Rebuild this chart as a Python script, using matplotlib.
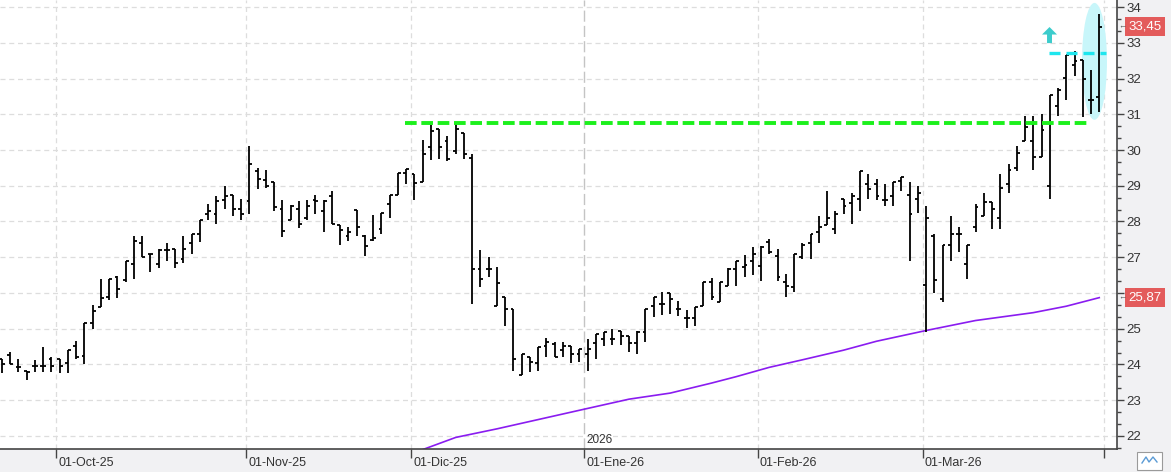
import numpy as np
import matplotlib
matplotlib.use('Agg')
import matplotlib.pyplot as plt
import matplotlib.transforms as mtransforms
from matplotlib.patches import Ellipse, Polygon, Rectangle
from matplotlib.lines import Line2D
from matplotlib.ticker import MultipleLocator

plt.rcParams['font.family'] = ['Liberation Sans', 'DejaVu Sans']

# daily OHLC, 22-Sep-25 .. 31-Mar-26 (one entry per trading session)
opens = [24.14, 24.27, 23.92, 23.83, 23.95, 23.96, 24.14, 24.15, 24.05, 24.52,
         24.24, 25.17, 25.60, 25.89, 26.45, 26.37, 26.80, 27.40, 27.10, 26.80,
         27.20, 27.24, 26.95, 27.40, 27.65, 28.20, 28.20, 28.60, 28.75, 28.35,
         28.56, 29.40, 29.17, 29.10, 28.35, 28.05, 28.35, 28.10, 28.60, 28.30,
         28.72, 27.90, 27.60, 28.31, 27.60, 27.47, 27.80, 28.50, 28.73, 29.35,
         29.32, 29.10, 30.08, 30.60, 30.26, 29.97, 30.48, 29.79, 26.66, 26.66,
         25.65, 25.88, 25.54, 23.70, 24.20, 24.03, 24.51, 24.56, 24.40, 24.52,
         24.28, 24.28, 24.59, 24.70, 24.70, 24.95, 24.80, 24.59, 24.92, 25.64,
         25.70, 26.00, 25.55, 25.31, 25.31, 25.64, 26.32, 25.76, 26.20, 26.66,
         26.72, 26.90, 26.76, 27.42, 27.04, 26.30, 26.16, 27.02, 27.40, 27.72,
         27.89, 27.79, 28.64, 28.52, 28.63, 29.05, 29.05, 28.59, 28.72, 29.12,
         28.75, 28.63, 26.21, 27.60, 25.84, 27.33, 27.65, 26.81, 27.85, 28.14,
         28.54, 28.10, 29.05, 29.50, 30.26, 30.26, 29.80, 29.00, 31.24, 32.02,
         32.37, 32.51, 31.40, 31.48]
highs = [24.15, 24.35, 24.15, 23.83, 24.12, 24.50, 24.20, 24.15, 24.40, 24.65,
         25.17, 25.66, 26.40, 26.40, 26.48, 26.90, 27.60, 27.60, 27.10, 27.24,
         27.40, 27.24, 27.60, 27.65, 28.03, 28.50, 28.72, 29.00, 28.75, 28.63,
         30.10, 29.50, 29.44, 29.10, 28.60, 28.47, 28.56, 28.60, 28.73, 28.60,
         28.85, 27.90, 27.85, 28.31, 27.61, 28.17, 28.25, 28.74, 29.35, 29.46,
         29.32, 30.27, 30.70, 30.60, 30.40, 30.73, 30.48, 29.90, 27.20, 27.00,
         26.73, 25.88, 25.54, 24.28, 24.20, 24.48, 24.73, 24.62, 24.62, 24.52,
         24.42, 24.71, 24.84, 24.92, 24.98, 24.95, 24.80, 24.95, 25.55, 25.88,
         26.02, 26.00, 25.79, 25.52, 25.60, 26.30, 26.41, 26.30, 26.69, 26.90,
         27.07, 27.30, 27.32, 27.51, 27.23, 26.53, 27.09, 27.40, 27.66, 28.16,
         28.86, 28.30, 28.64, 28.80, 29.42, 29.33, 29.19, 29.05, 29.10, 29.24,
         29.10, 29.00, 28.44, 27.65, 27.33, 28.16, 27.85, 27.33, 28.50, 28.80,
         28.54, 29.33, 29.60, 30.12, 30.96, 30.94, 31.02, 31.55, 31.74, 32.67,
         32.77, 32.51, 32.23, 33.80]
lows = [23.75, 24.00, 23.80, 23.58, 23.80, 23.80, 23.80, 23.76, 23.76, 24.15,
        24.01, 25.00, 25.60, 25.80, 25.85, 26.30, 26.40, 27.00, 26.58, 26.70,
        26.90, 26.70, 26.83, 27.10, 27.44, 28.05, 27.92, 28.35, 28.14, 28.05,
        28.20, 28.90, 28.94, 28.30, 27.58, 28.05, 27.83, 28.05, 28.20, 27.72,
        27.92, 27.34, 27.45, 27.60, 27.03, 27.45, 27.66, 28.10, 28.73, 29.06,
        28.60, 29.10, 29.73, 29.75, 29.70, 29.90, 29.76, 25.70, 26.18, 26.44,
        25.65, 25.08, 23.82, 23.70, 23.78, 23.82, 24.20, 24.21, 24.21, 24.03,
        24.07, 23.82, 24.14, 24.51, 24.54, 24.54, 24.34, 24.28, 24.64, 25.32,
        25.38, 25.41, 25.36, 25.03, 25.07, 25.64, 25.80, 25.74, 26.20, 26.20,
        26.44, 26.50, 26.33, 27.09, 26.33, 25.89, 26.02, 26.95, 26.95, 27.40,
        27.89, 27.65, 28.21, 27.93, 28.28, 28.63, 28.59, 28.42, 28.42, 28.84,
        26.89, 28.24, 24.91, 26.00, 25.74, 26.89, 27.14, 26.38, 27.70, 28.14,
        27.79, 27.79, 28.80, 29.42, 30.26, 29.43, 29.80, 28.63, 30.94, 31.41,
        32.06, 30.92, 31.00, 31.06]
closes = [24.00, 24.01, 23.92, 23.80, 23.95, 23.97, 23.96, 23.96, 24.40, 24.22,
          25.17, 25.50, 25.86, 26.40, 26.10, 26.90, 27.45, 27.00, 27.08, 27.20,
          27.20, 26.83, 27.23, 27.65, 28.03, 28.30, 28.56, 28.72, 28.35, 28.20,
          29.62, 29.20, 28.98, 28.40, 27.74, 28.44, 27.93, 28.44, 28.58, 28.57,
          27.92, 27.75, 27.70, 27.85, 27.31, 27.55, 28.25, 28.74, 29.35, 29.46,
          29.07, 29.90, 30.54, 30.08, 29.74, 30.60, 29.90, 26.68, 26.38, 26.66,
          26.27, 25.54, 24.15, 24.28, 24.07, 24.48, 24.62, 24.21, 24.52, 24.28,
          24.42, 24.42, 24.84, 24.92, 24.70, 24.80, 24.59, 24.92, 25.55, 25.88,
          25.70, 25.83, 25.55, 25.31, 25.60, 26.30, 25.88, 26.30, 26.66, 26.90,
          26.79, 27.10, 27.30, 27.15, 26.45, 26.20, 27.09, 27.33, 27.66, 27.86,
          28.10, 28.22, 28.44, 28.72, 29.42, 28.90, 28.72, 28.59, 29.10, 29.24,
          28.21, 28.80, 28.10, 26.35, 27.33, 27.65, 27.65, 27.33, 28.40, 28.54,
          28.35, 28.93, 29.45, 29.93, 30.64, 29.80, 30.55, 31.55, 31.67, 32.65,
          32.50, 32.00, 31.40, 33.45]

# long moving average (purple), read at a few bars
ma_idx = [51, 55, 60, 65, 70, 76, 81, 86, 89, 93, 97, 102, 106, 112, 118, 125, 129, 133]
ma_vals = [21.62, 21.96, 22.20, 22.46, 22.72, 23.03, 23.20, 23.48, 23.66, 23.92,
           24.13, 24.40, 24.65, 24.95, 25.23, 25.45, 25.63, 25.87]

# first bar of each month, and axis labels
month_idx = [7, 30, 50, 71, 92, 112, 134]
month_labels = ['01-Oct-25', '01-Nov-25', '01-Dic-25', '01-Ene-26', '01-Feb-26', '01-Mar-26', '']
year_idx = 71
year_label = '2026'

price_ticks = list(range(22, 35))
hidden_price_labels = [26]   # covered by the moving-average tag

resist_level = 30.75     # green dashed
resist_from, resist_to = 48.8, 131.9
target_level = 32.70     # cyan dashed
target_from, target_to = 126.9, 133.8

x = np.arange(len(opens))
o = np.array(opens); h = np.array(highs); l = np.array(lows); c = np.array(closes)

fig = plt.figure(figsize=(11.71, 4.72), dpi=100, facecolor='#f1f1f3')
W, H = 1171, 472
ax = fig.add_axes([0, 23 / H, 1117 / W, 449 / H])
ax.set_facecolor('white')
ax.set_xlim(-0.24, 135.15)
ax.set_ylim(21.636, 34.196)

# grid
for v in price_ticks:
    ax.axhline(v, color='#dddddd', lw=0.9, dashes=(4, 3), zorder=0)
for m in month_idx:
    if m == year_idx:
        ax.axvline(m - 0.4, color='#c4c4c4', lw=1.0, dashes=(8, 3), zorder=0)
    else:
        ax.axvline(m - 0.4, color='#dddddd', lw=0.9, dashes=(4, 3), zorder=0)

# highlight ellipse + arrow
ax.add_patch(Ellipse((132.42, 32.48), 3.03, 3.27, facecolor='#c8f6fa', edgecolor='none', zorder=1))
ax_x, tip, base, bot, hw, sw = 126.97, 33.44, 33.23, 32.99, 0.91, 0.30
ax.add_patch(Polygon([(ax_x, tip), (ax_x + hw, base), (ax_x + sw, base), (ax_x + sw, bot),
                      (ax_x - sw, bot), (ax_x - sw, base), (ax_x - hw, base)],
                     closed=True, facecolor='#3ccccc', edgecolor='none', zorder=4))

# moving average
ax.plot(ma_idx, ma_vals, color='#8a1cf0', lw=1.2, zorder=2)

# OHLC bars
tw = 0.36
ax.vlines(x, l, h, color='black', lw=1.3, zorder=3)
ax.hlines(o, x - tw, x, color='black', lw=1.3, zorder=3)
ax.hlines(c, x, x + tw, color='black', lw=1.3, zorder=3)

# levels
ax.plot([resist_from, resist_to], [resist_level, resist_level], color='#1cf01c', lw=2.8,
        linestyle=(0, (3.0, 1.2)), solid_capstyle='butt', zorder=4)
ax.plot([target_from, target_to], [target_level, target_level], color='#1ee6ee', lw=2.4,
        linestyle=(0, (3.3, 1.8)), zorder=4)

ax.text(year_idx - 0.15, 21.9, year_label, fontsize=8.5, color='#333333', ha='left', va='center')

# axes styling
for s in ['left', 'top']:
    ax.spines[s].set_visible(False)
for s in ['right', 'bottom']:
    ax.spines[s].set_color('#444444')
    ax.spines[s].set_linewidth(1.2)

ax.yaxis.tick_right()
ax.set_yticks(price_ticks)
ax.set_yticklabels(['' if v in hidden_price_labels else str(v) for v in price_ticks])
ax.yaxis.set_minor_locator(MultipleLocator(1 / 3))
ax.tick_params(axis='y', which='major', length=5, width=1, color='#444444',
               labelsize=9.5, labelcolor='#333333', pad=2)
ax.tick_params(axis='y', which='minor', length=3, width=1, color='#444444')

ax.set_xticks([m - 0.4 for m in month_idx])
ax.set_xticklabels(month_labels)
ax.tick_params(axis='x', length=6.5, width=1, color='#444444', labelsize=9,
               labelcolor='#333333', pad=-1)
off = mtransforms.ScaledTranslation(2 / 100, 0, fig.dpi_scale_trans)
for lbl in ax.get_xticklabels():
    lbl.set_ha('left')
    lbl.set_transform(lbl.get_transform() + off)

# last value tags
ytr = ax.get_yaxis_transform()
for val, col in [(closes[-1], '#e35b5b'), (ma_vals[-1], '#e35b5b')]:
    ax.annotate(f'{val:.2f}'.replace('.', ','), xy=(1, val), xycoords=ytr,
                xytext=(8, 0), textcoords='offset points', ha='left', va='center',
                fontsize=9.5, color='white', annotation_clip=False,
                bbox=dict(boxstyle='square,pad=0.25', facecolor=col, edgecolor='none'))
    ax.annotate('←', xy=(1, val), xycoords=ytr, xytext=(1, 0), textcoords='offset points',
                ha='left', va='center', fontsize=6, color='#555555', annotation_clip=False)

# small button bottom right
fig.patches.append(Rectangle((1137 / W, 2 / H), 25 / W, 18 / H, transform=fig.transFigure,
                             facecolor='white', edgecolor='#9a9a9a', lw=0.8))
fig.add_artist(Line2D(np.array([1142, 1146, 1149, 1153, 1157]) / W,
                      np.array([9, 15, 10, 15, 10]) / H, transform=fig.transFigure,
                      color='#5b9bd5', lw=1.0))

fig.savefig('out.png', dpi=100, facecolor=fig.get_facecolor())
